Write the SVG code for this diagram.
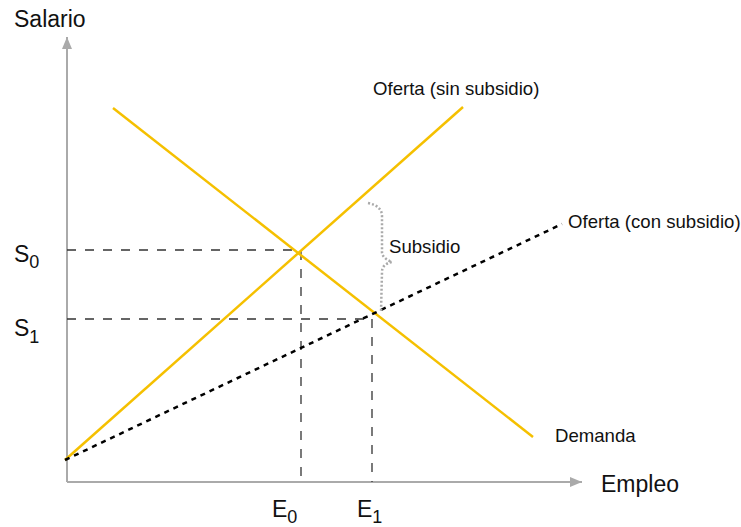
<svg xmlns="http://www.w3.org/2000/svg" width="741" height="527" viewBox="0 0 741 527">
<style>
.axis{stroke:#aaaaaa;stroke-width:2;fill:none}
.guide{stroke:#333333;stroke-width:1.3;stroke-dasharray:9 9;fill:none}
.curve{stroke:#f5c000;stroke-width:2.5;fill:none}
.sub{stroke:#000;stroke-width:2.5;stroke-dasharray:5 5;fill:none}
.brace{stroke:#aaaaaa;stroke-width:2.5;stroke-dasharray:2 2;fill:none}
text{font-family:"Liberation Sans",Arial,sans-serif;fill:#111}
.big{font-size:23px}
.lbl{font-size:18.6px}
</style>
<defs>
<marker id="ah" viewBox="0 0 12 10" refX="12" refY="5" markerWidth="12" markerHeight="10" markerUnits="userSpaceOnUse" orient="auto">
<path d="M0,0 L12,5 L0,10 Z" fill="#aaaaaa"/>
</marker>
</defs>
<g id="axes">
<line class="axis" x1="67" y1="482" x2="67" y2="37" marker-end="url(#ah)"/>
<line class="axis" x1="67" y1="482" x2="582" y2="482" marker-end="url(#ah)"/>
<text class="big" x="14" y="27">Salario</text>
<text class="big" x="601" y="491.5">Empleo</text>
</g>
<g id="connectors">
<line class="guide" x1="67" y1="250" x2="300" y2="250"/>
<line class="guide" x1="301" y1="251" x2="301" y2="482"/>
<line class="guide" x1="67" y1="319" x2="372" y2="319"/>
<line class="guide" x1="372" y1="319" x2="372" y2="482"/>
</g>
<g id="oferta-sin">
<line class="curve" x1="65" y1="460" x2="463" y2="107"/>
<text class="lbl" x="373" y="95">Oferta (sin subsidio)</text>
</g>
<g id="demanda">
<line class="curve" x1="113" y1="108" x2="533" y2="437"/>
<text class="lbl" x="555" y="442">Demanda</text>
</g>
<g id="oferta-con">
<line class="sub" x1="65" y1="460" x2="562" y2="224"/>
<text class="lbl" x="568" y="228">Oferta (con subsidio)</text>
</g>
<g id="subsidio">
<path class="brace" d="M368,203 Q382,206 382,216 L382,252 Q382,258 392,262 Q382,264 382,272 L381,312"/>
<text class="lbl" x="389" y="253">Subsidio</text>
</g>
<g id="labels">
<text class="big" x="14" y="262">S<tspan font-size="18" dy="6">0</tspan></text>
<text class="big" x="14" y="336">S<tspan font-size="18" dy="7">1</tspan></text>
<text class="big" x="272" y="517">E<tspan font-size="18" dy="6">0</tspan></text>
<text class="big" x="357" y="517">E<tspan font-size="18" dy="6">1</tspan></text>
</g>
</svg>
